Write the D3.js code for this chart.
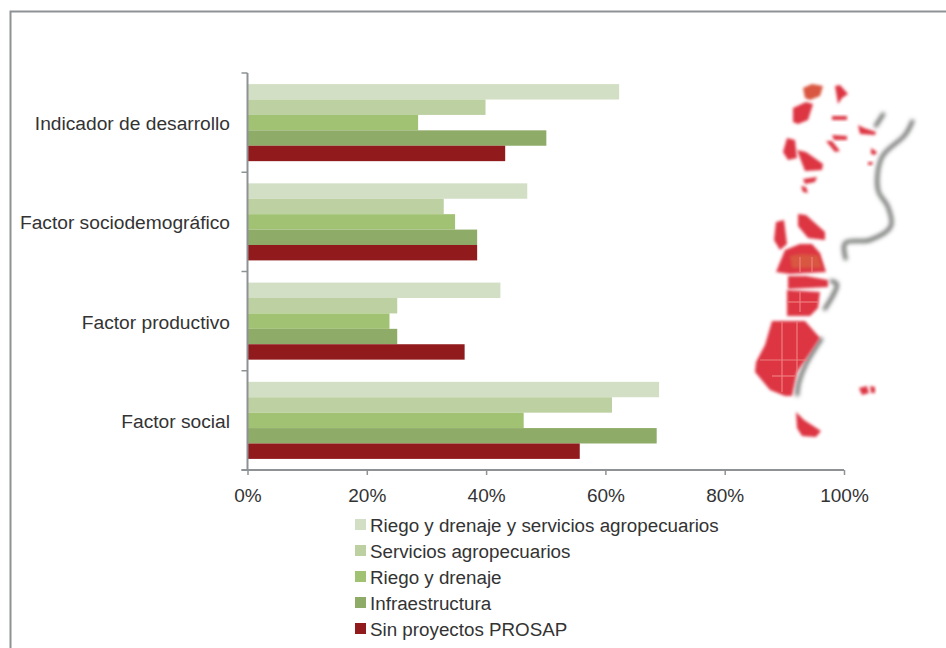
<!DOCTYPE html>
<html><head><meta charset="utf-8">
<script src="https://cdn.jsdelivr.net/npm/d3@7/dist/d3.min.js"></script>
<style>
html,body{margin:0;padding:0;background:#fff}
svg{display:block}
text{font-family:"Liberation Sans",Arial,sans-serif;fill:#333;font-weight:400}
</style></head><body>
<svg id="c" width="946" height="648"></svg>
<script>
const categories = ["Indicador de desarrollo","Factor sociodemográfico","Factor productivo","Factor social"];
const seriesNames = ["Riego y drenaje y servicios agropecuarios","Servicios agropecuarios","Riego y drenaje","Infraestructura","Sin proyectos PROSAP"];
const seriesColors = ["#d2dfc5","#bcd0a2","#a2c273","#8fab68","#911a1d"];
const riegoServicios = [62.3,46.9,42.4,69.0];
const servicios = [39.9,32.9,25.1,61.1];
const riego = [28.6,34.8,23.8,46.3];
const infraestructura = [50.1,38.5,25.1,68.6];
const sinProyectos = [43.2,38.5,36.4,55.7];
const xTicks = [0,20,40,60,80,100];
const seriesValues = [riegoServicios,servicios,riego,infraestructura,sinProyectos];

// decorative inset: blurry map of Argentina
const mapRed = [
 [[793,108],[806,102],[813,104],[808,120],[798,124],[793,122]],
 [[783,152],[787,138],[795,140],[797,158],[788,160]],
 [[797,150],[806,152],[823,164],[822,170],[805,171]],
 [[803,179],[817,177],[815,182],[805,184]],
 [[801,186],[806,187],[808,193],[803,192]],
 [[835,86],[840,85],[848,94],[842,98],[838,104]],
 [[832,116],[847,116],[847,120],[832,120]],
 [[858,125],[864,128],[876,132],[875,135],[860,134]],
 [[832,135],[847,136],[847,140],[834,140]],
 [[826,141],[832,141],[840,151],[835,152]],
 [[871,148],[877,152],[875,155],[871,154]],
 [[868,162],[873,162],[872,165],[868,165]],
 [[798,214],[806,215],[825,232],[825,240],[808,238],[798,226]],
 [[776,222],[784,220],[787,244],[780,250],[774,240]],
 [[785,250],[800,244],[812,244],[820,253],[826,272],[790,274],[776,272]],
 [[788,276],[806,276],[828,280],[828,287],[788,289]],
 [[787,290],[820,292],[818,308],[810,316],[787,316]],
 [[772,321],[805,321],[820,338],[808,356],[797,372],[792,396],[785,396],[770,390],[755,372],[756,362],[765,345]],
 [[796,412],[804,420],[821,431],[816,437],[802,436],[797,428]],
 [[859,388],[867,386],[869,393],[862,395]],
 [[870,386],[875,387],[875,393],[871,393]]
];
const mapOrange = [
 [[803,88],[812,84],[823,86],[820,96],[810,100],[805,98]],
 [[790,256],[800,254],[818,255],[822,268],[792,268]]
];
const mapCoasts = [
 [[913,120],[905,135],[882,157],[878,190],[888,207],[891,226],[870,240],[845,243],[846,260]],
 [[884,113],[875,127]],
 [[830,281],[837,284],[824,310]],
 [[822,338],[806,364],[799,382],[797,396]],
 [[812,436],[824,436]],
 [[876,390],[885,390]]
];
const mapGridLines = [
 [[782,322],[782,392]],[[797,322],[797,372]],[[760,360],[808,360]],[[772,376],[795,376]],
 [[800,257],[800,272]],[[812,257],[812,272]],[[800,292],[800,312]],[[788,302],[818,302]]
];

const margin = {left:247.5, right:844, top:73, bottom:470};
const svg = d3.select("#c");
const grey = "#8e9294";

const defs = svg.append("defs");
defs.append("filter").attr("id","b").attr("x","-40%").attr("y","-40%").attr("width","180%").attr("height","180%")
  .append("feGaussianBlur").attr("stdDeviation",1.5);
defs.append("filter").attr("id","s").attr("x","-60%").attr("y","-60%").attr("width","220%").attr("height","220%")
  .append("feGaussianBlur").attr("stdDeviation",1.9);
const closed = d3.line().curve(d3.curveLinearClosed);
const open = d3.line().curve(d3.curveCatmullRom);
const map = svg.append("g");
map.selectAll("path.c").data(mapCoasts).join("path").attr("class","c").attr("d",open)
  .attr("fill","none").attr("stroke","#5f625f").attr("stroke-width",3.5).attr("filter","url(#s)");
map.selectAll("path.r").data(mapRed).join("path").attr("class","r").attr("d",closed)
  .attr("fill","#dd3442").attr("filter","url(#b)");
map.selectAll("path.o").data(mapOrange).join("path").attr("class","o").attr("d",closed)
  .attr("fill","#d9573f").attr("filter","url(#b)");
map.selectAll("path.g").data(mapGridLines).join("path").attr("class","g").attr("d",d3.line())
  .attr("fill","none").attr("stroke","#ee7f80").attr("stroke-width",1.2);

// frame
svg.append("path").attr("d","M946,11.5H10.5V648").attr("fill","none").attr("stroke",grey).attr("stroke-width",2);

const x = d3.scaleLinear().domain([0,100]).range([margin.left,margin.right]);
const y0 = d3.scaleBand().domain(categories).range([margin.top,margin.bottom]);
const y1 = d3.scaleBand().domain(d3.range(seriesNames.length)).range([0,y0.bandwidth()]).paddingOuter(0.72).paddingInner(0);

seriesValues.forEach((vals,i)=>{
  svg.append("g").selectAll("rect").data(vals).join("rect")
    .attr("x",x(0)).attr("y",(d,j)=>y0(categories[j])+y1(i))
    .attr("width",d=>x(d)-x(0)).attr("height",y1.bandwidth()).attr("fill",seriesColors[i]);
});

// axes
const ax = svg.append("g").attr("transform",`translate(0,${margin.bottom})`)
  .call(d3.axisBottom(x).tickValues(xTicks).tickFormat(d=>d+"%").tickSize(5).tickPadding(14).tickSizeOuter(0));
ax.select(".domain").attr("stroke",grey).attr("stroke-width",2).attr("d",`M${margin.left-6},0H${margin.right}`);
ax.selectAll(".tick line").attr("stroke",grey).attr("stroke-width",1.5);
ax.selectAll(".tick text").attr("font-size",19).style("font-family",'"Liberation Sans",Arial,sans-serif').attr("fill","#333");

const ay = svg.append("g").attr("transform",`translate(${margin.left},0)`);
ay.append("line").attr("y1",margin.top).attr("y2",margin.bottom).attr("stroke",grey).attr("stroke-width",2);
const edges = categories.map(c=>y0(c)).concat([margin.bottom]);
ay.selectAll("line.t").data(edges).join("line").attr("class","t")
  .attr("x1",-6).attr("x2",0).attr("y1",d=>d).attr("y2",d=>d).attr("stroke",grey).attr("stroke-width",1.5);
ay.selectAll("text").data(categories).join("text")
  .attr("x",-17.5).attr("y",d=>y0(d)+y0.bandwidth()/2+2.5).attr("text-anchor","end").attr("dominant-baseline","middle")
  .attr("font-size",19.2).text(d=>d);

// legend
const leg = svg.append("g").selectAll("g").data(seriesNames).join("g")
  .attr("transform",(d,i)=>`translate(355,${526+i*26})`);
leg.append("rect").attr("x",0).attr("y",-7).attr("width",11).attr("height",11).attr("fill",(d,i)=>seriesColors[i]);
leg.append("text").attr("x",15).attr("y",1).attr("dominant-baseline","middle").attr("font-size",18.8).text(d=>d);
</script></body></html>
